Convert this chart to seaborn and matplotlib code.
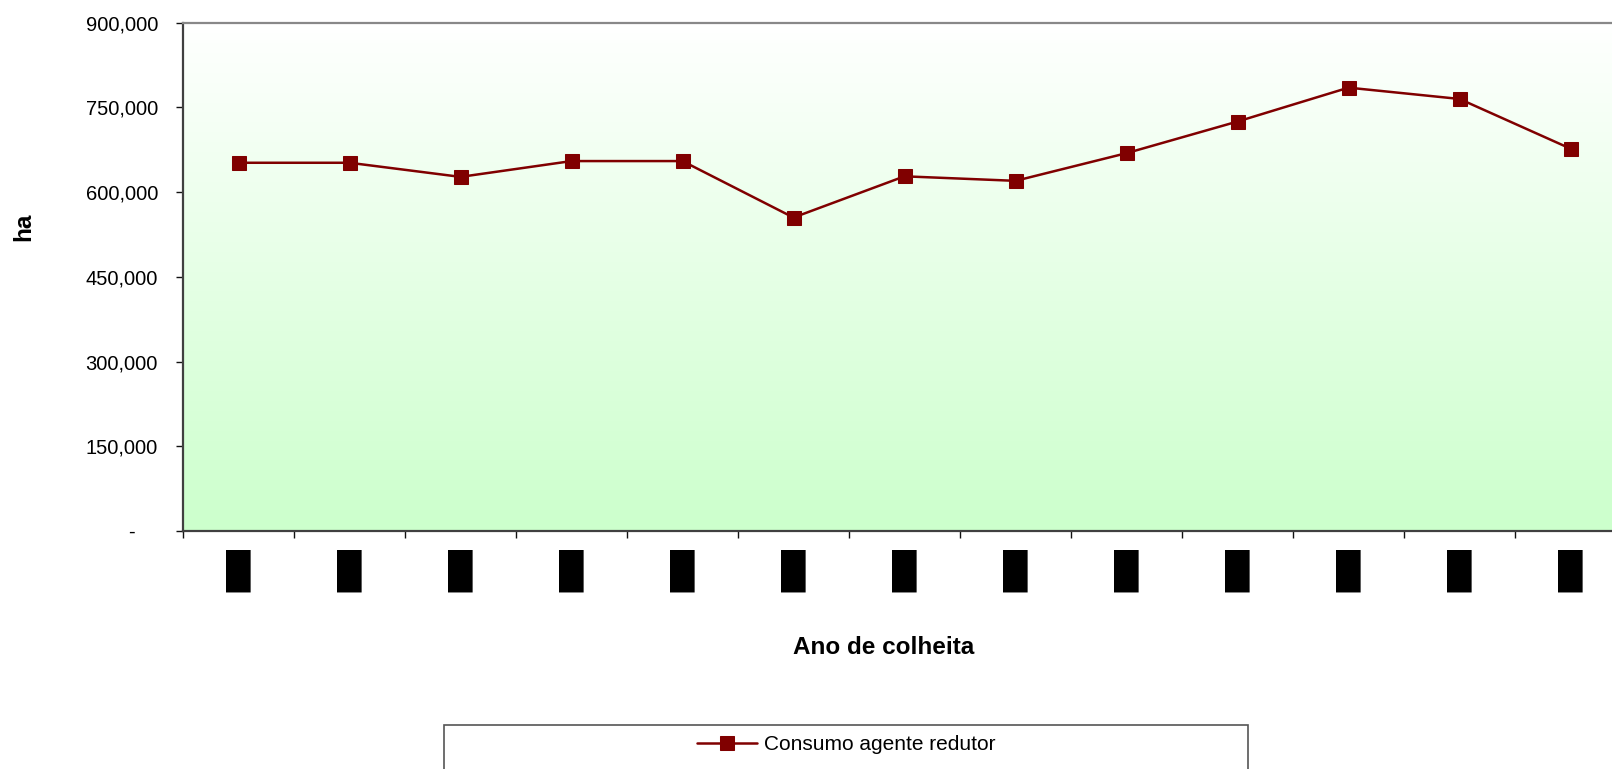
import numpy as np
import matplotlib
matplotlib.use('Agg')
import matplotlib.pyplot as plt
import matplotlib.patches as mpatches
from matplotlib.ticker import FuncFormatter, FixedLocator
import seaborn as sns

# data (ha)
anos = ['█', '█', '█', '█', '█', '█', '█', '█', '█', '█', '█', '█', '█']
consumo = [652000, 652000, 627000, 655000, 655000, 555000, 628000,
           620000, 669000, 725000, 785000, 765000, 677000]
y_ticks = [0, 150000, 300000, 450000, 600000, 750000, 900000]
serie_nome = 'Consumo agente redutor'

VERMELHO = '#800000'

sns.set_theme(style='white')
plt.rcParams['font.family'] = ['Liberation Sans', 'DejaVu Sans']
plt.rcParams.update({
    'text.color': 'black',
    'axes.labelcolor': 'black',
    'xtick.color': 'black',
    'ytick.color': 'black',
})

fig = plt.figure(figsize=(16.12, 7.69), dpi=100)
W, H = 1612, 769
ax = fig.add_axes([183 / W, (H - 531) / H, 1443 / W, 508.3 / H])

# gradient background, white on top to light green at the bottom
grad = np.linspace(0, 1, 256).reshape(-1, 1)
cmap = matplotlib.colors.LinearSegmentedColormap.from_list('g', ['#FFFFFF', '#CCFFCC'])
ax.imshow(grad, cmap=cmap, aspect='auto', extent=[0, 1, 0, 1],
          transform=ax.transAxes, zorder=0)

x = np.arange(len(anos))
sns.lineplot(x=x, y=consumo, ax=ax, color=VERMELHO, linewidth=1.8,
             marker='s', markersize=9.5, markeredgecolor=VERMELHO,
             markerfacecolor=VERMELHO, label=serie_nome, legend=False, zorder=3)

ax.set_xlim(-0.5, len(anos) - 0.5)
ax.set_ylim(y_ticks[0], y_ticks[-1])
ax.set_yticks(y_ticks)
ax.yaxis.set_major_formatter(FuncFormatter(
    lambda v, p: '-    ' if v == 0 else f'{v:,.0f}'))

ax.set_xticks(x)
ax.set_xticklabels(anos, fontsize=25)
ax.xaxis.set_minor_locator(FixedLocator(np.arange(-0.5, len(anos), 1.0)))
ax.tick_params(axis='x', which='major', length=0, pad=13)
ax.tick_params(axis='x', which='minor', length=5, width=1, color='#111111',
               direction='out', bottom=True)
ax.tick_params(axis='y', length=5, width=1, color='#111111', direction='out',
               left=True, labelsize=14.5, pad=13)

for s in ['left', 'bottom']:
    ax.spines[s].set_color('#404040')
    ax.spines[s].set_linewidth(1.6)
for s in ['top', 'right']:
    ax.spines[s].set_color('#888888')
    ax.spines[s].set_linewidth(1.6)

ax.set_xlabel('Ano de colheita', fontsize=17.5, fontweight='bold', va='center')
ax.xaxis.set_label_coords((884 - 183) / 1443, (531 - 648) / 508.3)
ax.set_ylabel('ha', fontsize=17.5, fontweight='bold', va='center')
ax.yaxis.set_label_coords((24 - 183) / 1443, (531 - 226.5) / 508.3)

# legend box at the bottom (runs past the lower edge like the original)
caixa = mpatches.Rectangle((444 / W, 1 - 790 / H), (1248 - 444) / W, 65 / H,
                           transform=fig.transFigure, facecolor='white',
                           edgecolor='#555555', linewidth=1.2, clip_on=False)
fig.patches.append(caixa)
handles, labels = ax.get_legend_handles_labels()
fig.legend(handles, labels, loc='center', bbox_to_anchor=(846 / W, 1 - 745 / H),
           frameon=False, fontsize=15, handlelength=2.9, handletextpad=0.3,
           borderpad=0)

fig.savefig('out.png', dpi=100)
